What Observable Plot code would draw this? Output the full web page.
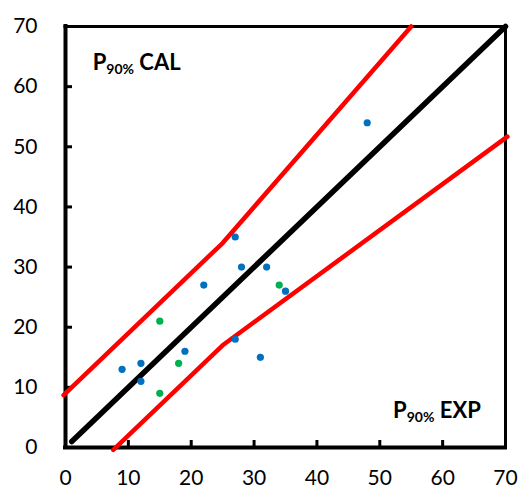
<!DOCTYPE html>
<html><head><meta charset="utf-8">
<script src="https://cdn.jsdelivr.net/npm/d3@7"></script>
<script src="https://cdn.jsdelivr.net/npm/@observablehq/plot@0.6"></script>
<style>body{margin:0;background:#fff;}</style>
</head><body><div id="chart"></div>
<script>
// Data
const blueX = [9, 12, 12, 19, 22, 27, 28, 27, 31, 32, 35, 48];
const blueY = [13, 14, 11, 16, 27, 35, 30, 18, 15, 30, 26, 54];
const greenX = [15, 18, 15, 34];
const greenY = [21, 14, 9, 27];
const diagX = [1, 70];
const diagY = [1, 70];
const upperX = [-0.3, 25, 55];
const upperY = [8.7, 34, 70];
const lowerX = [7.6, 25, 70.3];
const lowerY = [-0.4, 17, 51.7];
const tickValues = [0, 10, 20, 30, 40, 50, 60, 70];
const innerTicks = [10, 20, 30, 40, 50, 60];
const labelCal = {x: 4.4, y: 62.7, main: "P", sub: "90%", rest: " CAL"};
const labelExp = {x: 52.2, y: 4.9, main: "P", sub: "90%", rest: " EXP"};

const pts = (xs, ys) => xs.map((x, i) => ({x, y: ys[i]}));

const W = 520, H = 488, mL = 65, mR = 15, mT = 26, mB = 41;
const innerW = W - mL - mR, innerH = H - mT - mB;
const font = "Lato";

const plot = Plot.plot({
  width: W, height: H,
  marginLeft: mL, marginRight: mR, marginTop: mT, marginBottom: mB,
  style: {fontFamily: font, background: "#fff"},
  x: {domain: [0, 70]},
  y: {domain: [0, 70]},
  marks: [
    Plot.axisX(tickValues, {tickSize: 0, tickPadding: 23, fontSize: 21, label: null, fill: "#000"}),
    Plot.axisY(tickValues, {tickSize: 0, tickPadding: 28, fontSize: 21, label: null, fill: "#000"}),
    Plot.tickY(innerTicks, {y: d => d, insetRight: innerW - 7, stroke: "#000", strokeWidth: 3}),
    Plot.tickX(innerTicks, {x: d => d, insetTop: innerH - 7, stroke: "#000", strokeWidth: 3}),
    Plot.ruleX([70], {stroke: "#000", strokeWidth: 3, strokeLinecap: "square"}),
    Plot.ruleY([70], {stroke: "#000", strokeWidth: 3, strokeLinecap: "square"}),
    Plot.ruleX([0], {stroke: "#000", strokeWidth: 4, strokeLinecap: "square"}),
    Plot.ruleY([0], {stroke: "#000", strokeWidth: 4, strokeLinecap: "square"}),
    Plot.line(pts(upperX, upperY), {x: "x", y: "y", stroke: "#FF0000", strokeWidth: 4.5, clip: false}),
    Plot.line(pts(lowerX, lowerY), {x: "x", y: "y", stroke: "#FF0000", strokeWidth: 4.5, clip: false}),
    Plot.line(pts(diagX, diagY), {x: "x", y: "y", stroke: "#000", strokeWidth: 5.5, strokeLinecap: "round"}),
    Plot.dot(pts(blueX, blueY), {x: "x", y: "y", r: 3.6, fill: "#0070C0", stroke: null}),
    Plot.dot(pts(greenX, greenY), {x: "x", y: "y", r: 3.6, fill: "#00B050", stroke: null})
  ]
});

const sx = plot.scale("x"), sy = plot.scale("y");
const svg = d3.select(plot);
for (const L of [labelCal, labelExp]) {
  const t = svg.append("text")
    .attr("x", sx.apply(L.x)).attr("y", sy.apply(L.y))
    .attr("text-anchor", "start")
    .attr("font-family", font).attr("font-weight", "bold")
    .attr("font-size", 22).attr("fill", "#000");
  t.append("tspan").text(L.main);
  t.append("tspan").attr("font-size", 14).attr("dy", 4).text(L.sub);
  t.append("tspan").attr("dy", -4).text(L.rest);
}
document.getElementById("chart").appendChild(plot);
</script>
</body></html>
